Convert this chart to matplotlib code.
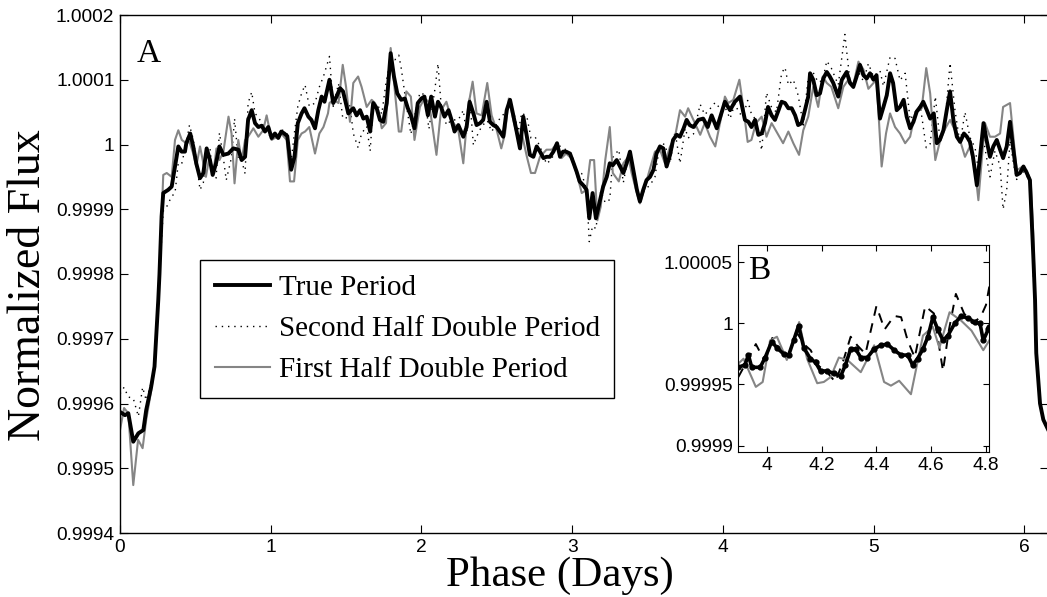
import numpy as np
import matplotlib
matplotlib.use("Agg")
import matplotlib.pyplot as plt

# ---------------- data (flux offsets in ppm: flux = 1 + ppm*1e-6) ----------------
true_phase = [0.000,0.033,0.055,0.088,0.122,0.155,0.174,0.207,0.229,0.254,0.262,0.276,0.287,0.320,0.343,0.365,
0.387,0.409,0.431,0.440,0.466,0.486,0.506,0.531,0.553,0.575,0.597,0.615,0.637,0.660,0.686,0.719,0.752,0.785,
0.807,0.830,0.850,0.874,0.896,0.918,0.940,0.962,0.984,1.006,1.028,1.050,1.070,1.090,1.110,1.136,1.158,1.180,
1.205,1.224,1.250,1.270,1.294,1.316,1.338,1.357,1.390,1.415,1.437,1.460,1.480,1.515,1.548,1.570,1.593,1.615,
1.637,1.660,1.680,1.703,1.725,1.747,1.770,1.796,1.818,1.840,1.866,1.890,1.910,1.930,1.954,1.976,2.000,2.020,
2.043,2.065,2.090,2.110,2.130,2.153,2.180,2.200,2.220,2.245,2.278,2.300,2.320,2.345,2.366,2.390,2.410,2.433,
2.455,2.477,2.500,2.520,2.543,2.566,2.588,2.610,2.632,2.654,2.676,2.700,2.720,2.743,2.765,2.787,2.810,2.830,
2.853,2.876,2.900,2.920,2.940,2.960,2.986,3.010,3.030,3.050,3.074,3.096,3.114,3.136,3.158,3.185,3.206,3.230,
3.250,3.270,3.296,3.318,3.340,3.362,3.384,3.406,3.430,3.450,3.472,3.494,3.517,3.540,3.560,3.583,3.605,3.627,
3.650,3.670,3.694,3.716,3.740,3.760,3.780,3.805,3.838,3.870,3.900,3.926,3.960,3.990,4.014,4.048,4.080,4.114,
4.147,4.170,4.190,4.214,4.236,4.258,4.280,4.300,4.324,4.346,4.370,4.390,4.413,4.435,4.457,4.480,4.500,4.523,
4.545,4.567,4.579,4.600,4.623,4.645,4.667,4.690,4.710,4.733,4.766,4.790,4.822,4.844,4.866,4.888,4.910,4.933,
4.955,4.977,5.000,5.020,5.043,5.066,5.088,5.110,5.130,5.154,5.176,5.200,5.220,5.243,5.265,5.287,5.310,5.330,
5.354,5.376,5.400,5.420,5.440,5.464,5.486,5.508,5.530,5.553,5.575,5.600,5.620,5.640,5.660,5.686,5.707,5.730,
5.750,5.773,5.795,5.818,5.840,5.860,5.884,5.906,5.928,5.950,5.972,5.995,6.017,6.038,6.050,6.060,6.072,6.080,
6.105,6.127,6.160]
true_ppm = [-413,-418,-415,-459,-446,-441,-410,-374,-343,-240,-200,-111,-75,-70,-65,-34,
-3,-11,-11,2,17,-3,-29,-52,-44,-6,-24,-47,-29,-3,-16,-14,-6,-8,
-24,-19,38,53,33,27,29,20,27,10,17,10,20,17,13,-39,-19,33,
48,56,43,38,25,53,74,66,100,64,74,87,82,48,56,45,53,40,
43,20,64,56,38,35,64,141,105,79,69,71,56,45,25,64,71,74,
45,74,43,66,58,43,53,38,20,30,12,27,66,48,30,33,38,66,
35,30,27,20,12,53,69,45,20,-6,43,12,-16,-19,-3,-11,-21,-19,
-19,-11,2,-19,-11,-11,-14,-29,-42,-57,-63,-70,-114,-75,-114,-86,-65,-50,
-29,-32,-24,-34,-44,-29,-11,-39,-70,-88,-70,-55,-50,-39,-14,-3,-6,-34,
-16,7,15,12,25,38,30,27,38,40,27,45,25,48,66,53,66,74,
38,35,27,38,15,17,33,58,45,38,53,66,64,56,56,45,30,33,
53,74,110,100,76,79,102,112,105,95,74,100,112,95,89,105,123,107,
102,110,100,107,40,58,76,110,95,53,58,69,43,25,35,51,58,66,
53,40,48,2,7,22,53,82,38,12,4,17,12,4,-19,-63,-19,33,
7,-19,-3,7,-8,-21,-3,35,-8,-47,-44,-34,-44,-55,-117,-170,-240,-322,
-400,-425,-441]

first_phase = [0.000,0.027,0.055,0.088,0.120,0.150,0.174,0.207,0.229,0.254,0.270,0.287,0.310,0.343,0.365,0.387,
0.410,0.440,0.461,0.486,0.506,0.531,0.553,0.570,0.593,0.620,0.640,0.660,0.686,0.720,0.740,0.760,0.785,0.807,
0.830,0.850,0.885,0.918,0.950,0.973,1.006,1.040,1.070,1.106,1.128,1.155,1.180,1.205,1.228,1.256,1.294,1.323,
1.350,1.380,1.390,1.415,1.450,1.478,1.500,1.526,1.548,1.580,1.603,1.637,1.670,1.692,1.714,1.737,1.765,1.796,
1.825,1.850,1.866,1.900,1.930,1.954,1.990,2.020,2.050,2.100,2.130,2.166,2.200,2.245,2.278,2.310,2.340,2.366,
2.400,2.437,2.466,2.500,2.530,2.555,2.580,2.610,2.643,2.666,2.700,2.727,2.754,2.787,2.830,2.866,2.900,2.930,
2.960,2.995,3.030,3.064,3.096,3.120,3.146,3.168,3.190,3.220,3.250,3.270,3.310,3.340,3.373,3.395,3.430,3.450,
3.484,3.517,3.550,3.583,3.616,3.650,3.683,3.716,3.750,3.770,3.805,3.850,3.880,3.915,3.950,3.990,4.014,4.036,
4.070,4.110,4.136,4.165,4.190,4.220,4.258,4.290,4.324,4.356,4.400,4.435,4.468,4.506,4.534,4.567,4.600,4.633,
4.663,4.690,4.720,4.766,4.800,4.833,4.866,4.900,4.933,4.966,5.000,5.020,5.054,5.083,5.110,5.143,5.176,5.210,
5.243,5.276,5.320,5.350,5.376,5.410,5.440,5.470,5.508,5.540,5.574,5.607,5.640,5.674,5.696,5.720,5.740,5.773,
5.806,5.840,5.860,5.906,5.928,5.950,5.983,6.017,6.043,6.060,6.072,6.080,6.105,6.127,6.160]
first_ppm = [-441,-407,-415,-526,-456,-469,-425,-380,-343,-240,-150,-47,-44,-50,7,22,
7,2,4,-14,-34,-3,-29,-50,-19,-44,-6,-24,-11,43,17,-60,7,-24,
7,12,25,12,22,45,7,12,17,7,-57,-57,7,17,20,27,-14,17,
27,48,64,69,64,123,89,35,95,105,89,58,69,64,53,25,33,149,
79,20,20,82,74,7,58,71,66,-16,53,66,38,22,-29,58,97,48,
45,95,45,22,-6,17,71,38,7,17,-19,-44,-44,-19,-8,-8,2,-21,
-14,-21,-44,-75,-70,-24,-24,-117,-96,-24,27,-44,-57,-29,-19,-44,-75,-91,
-65,-37,-11,-8,-29,-3,12,53,43,56,38,15,33,12,-3,43,74,64,
69,100,58,4,7,33,43,12,33,20,2,20,2,-16,22,43,89,58,
105,95,89,56,89,100,92,128,116,86,95,100,-34,17,48,27,17,2,
12,48,56,118,79,-24,4,22,38,22,7,-19,-3,-39,-86,-19,33,12,
12,17,58,64,12,-40,-35,-40,-57,-137,-240,-322,-400,-425,-441]

second_phase = [0.000,0.027,0.055,0.088,0.122,0.150,0.174,0.207,0.229,0.245,0.265,0.287,0.310,0.343,0.365,0.387,
0.410,0.440,0.461,0.486,0.506,0.531,0.553,0.570,0.597,0.615,0.637,0.660,0.686,0.705,0.740,0.760,0.785,0.807,
0.830,0.850,0.874,0.896,0.918,0.950,0.984,1.006,1.040,1.070,1.106,1.136,1.158,1.180,1.205,1.228,1.256,1.294,
1.323,1.350,1.390,1.415,1.450,1.478,1.500,1.526,1.548,1.580,1.603,1.637,1.660,1.680,1.714,1.737,1.765,1.796,
1.825,1.850,1.866,1.900,1.930,1.954,1.990,2.020,2.050,2.090,2.110,2.130,2.166,2.200,2.245,2.278,2.300,2.320,
2.345,2.366,2.400,2.437,2.466,2.500,2.530,2.555,2.580,2.610,2.643,2.666,2.700,2.727,2.754,2.787,2.830,2.866,
2.900,2.930,2.960,2.995,3.030,3.064,3.096,3.114,3.136,3.158,3.190,3.220,3.250,3.270,3.310,3.340,3.373,3.406,
3.430,3.450,3.484,3.517,3.550,3.583,3.616,3.650,3.683,3.716,3.750,3.770,3.805,3.850,3.880,3.915,3.950,3.990,
4.014,4.048,4.080,4.110,4.136,4.165,4.190,4.220,4.258,4.290,4.324,4.356,4.390,4.413,4.435,4.468,4.500,4.534,
4.567,4.600,4.633,4.663,4.690,4.720,4.766,4.810,4.844,4.866,4.900,4.933,4.966,5.000,5.043,5.066,5.110,5.143,
5.176,5.210,5.243,5.276,5.310,5.350,5.376,5.410,5.440,5.470,5.508,5.540,5.574,5.607,5.640,5.674,5.696,5.720,
5.750,5.773,5.806,5.840,5.860,5.884,5.906,5.928,5.950,5.983,6.017,6.038,6.050,6.060,6.072,6.080,6.105,6.127,
6.160]
second_ppm = [-385,-375,-390,-392,-420,-375,-395,-368,-343,-260,-190,-103,-96,-80,-75,-28,
-29,2,30,8,-24,-70,-59,-20,-5,-50,-52,18,-21,-55,-20,40,-23,-24,
-45,64,81,48,42,30,15,13,10,23,19,-25,19,59,79,92,59,64,
89,105,136,59,94,41,40,61,17,-5,17,28,-10,59,59,47,95,133,
131,138,118,62,16,43,80,77,24,86,125,63,30,38,38,53,15,74,
-1,12,28,37,20,32,44,48,67,52,20,49,43,10,12,-3,-30,-22,
2,-5,-8,-14,-40,-45,-70,-150,-126,-130,-72,-90,-85,-20,-8,-59,-17,-40,
-65,-85,-69,-63,-50,2,0,-29,20,-29,25,10,16,62,46,55,65,53,
58,40,63,48,45,68,47,38,-9,80,57,50,110,119,92,100,76,30,
105,111,96,99,129,118,92,170,97,86,112,98,125,105,114,90,135,133,
99,110,38,50,60,-5,1,74,10,22,126,54,1,50,11,-5,-40,20,
-20,-50,-10,-33,-100,-70,6,-28,-54,-40,-48,-60,-100,-200,-240,-322,-400,-430,
-441]

# inset B (zoom of phase 3.9 - 4.8)
inset_true_phase = [3.896,3.920,3.933,3.945,3.976,3.994,4.018,4.037,4.061,4.080,4.098,4.116,4.135,4.159,4.178,
4.196,4.220,4.245,4.270,4.287,4.306,4.324,4.343,4.367,4.392,4.416,4.440,4.465,4.490,4.514,4.532,4.550,4.570,
4.588,4.606,4.624,4.643,4.661,4.686,4.710,4.735,4.759,4.778,4.790,4.808,4.812]
inset_true_ppm = [-36,-34,-26,-36,-36,-28,-15,-20,-25,-26,-14,-2,-20,-29,-32,
-39,-39,-41,-43,-34,-21,-21,-28,-28,-21,-18,-17,-22,-26,-26,-34,-29,-21,
-11,5,-5,-14,-10,0,6,4,1,0,-14,-5,-3]
inset_first_phase = [3.896,3.915,3.960,3.985,4.012,4.037,4.073,4.098,4.118,4.147,4.184,4.208,4.233,4.263,4.294,
4.343,4.392,4.428,4.453,4.483,4.526,4.570,4.606,4.630,4.667,4.710,4.747,4.790,4.812]
inset_first_ppm = [-33,-29,-52,-48,-14,-11,-30,-14,1,-29,-49,-48,-44,-28,-30,
-40,-18,-48,-51,-47,-58,-10,-3,-20,9,2,-6,-22,-14]
inset_second_phase = [3.896,3.930,3.960,3.990,4.020,4.050,4.080,4.110,4.140,4.160,4.190,4.220,4.250,4.280,4.306,
4.330,4.360,4.400,4.430,4.465,4.490,4.514,4.540,4.578,4.610,4.643,4.665,4.690,4.720,4.750,4.780,4.800,4.812]
inset_second_ppm = [-44,-30,-17,-30,-12,-22,-25,-8,-18,-22,-35,-40,-48,-30,-11,
-18,-25,14,-5,6,5,-14,-28,14,8,-39,-5,24,8,0,5,15,30]

labels = ["True Period", "Second Half Double Period", "First Half Double Period"]
main_yticks = [0.9994, 0.9995, 0.9996, 0.9997, 0.9998, 0.9999, 1.0, 1.0001, 1.0002]
main_yticklabels = ["0.9994", "0.9995", "0.9996", "0.9997", "0.9998", "0.9999", "1", "1.0001", "1.0002"]
main_xticks = [0, 1, 2, 3, 4, 5, 6]
inset_yticks = [0.9999, 0.99995, 1.0, 1.00005]
inset_yticklabels = ["0.9999", "0.99995", "1", "1.00005"]
inset_xticks = [4.0, 4.2, 4.4, 4.6, 4.8]
inset_xticklabels = ["4", "4.2", "4.4", "4.6", "4.8"]


def flux(ppm):
    return 1.0 + np.asarray(ppm, dtype=float) * 1e-6


W, H = 1047, 597
fig = plt.figure(figsize=(W / 100, H / 100), dpi=100)
tickfont = "Liberation Sans"
serif = "Liberation Serif"
GREY = "#858585"

ax = fig.add_axes([120 / W, 1 - 533 / H, 928 / W, 518 / H])
l1, = ax.plot(true_phase, flux(true_ppm), color="black", lw=2.8, zorder=3)
l2, = ax.plot(second_phase, flux(second_ppm), color="black", lw=1.0, ls=(0, (1, 3.5)), zorder=2)
l3, = ax.plot(first_phase, flux(first_ppm), color=GREY, lw=1.5, zorder=2)
ax.set_xlim(0, 928 / 150.7)
ax.set_ylim(0.9994, 1.0002)
ax.set_xticks(main_xticks)
ax.set_xticklabels([str(t) for t in main_xticks])
ax.set_yticks(main_yticks)
ax.set_yticklabels(main_yticklabels)
ax.tick_params(direction="in", length=6, width=0.8, top=True, right=True, labelsize=13.8, pad=4)
for lab in ax.get_xticklabels() + ax.get_yticklabels():
    lab.set_fontfamily(tickfont)
for s in ax.spines.values():
    s.set_linewidth(1.0)
fig.text(560 / W, 1 - 586 / H, "Phase (Days)", fontfamily=serif, fontsize=31,
         ha="center", va="baseline")
fig.text(8 / W, 1 - 285 / H, "Normalized Flux", fontfamily=serif, fontsize=33,
         ha="left", va="center", rotation=90)
ax.text(0.018, 0.955, "A", transform=ax.transAxes, fontfamily=serif, fontsize=24, va="top", ha="left")

leg = ax.legend([l1, l2, l3], labels, loc="upper left",
                bbox_to_anchor=(200 / W, 1 - 260 / H), bbox_transform=fig.transFigure,
                prop={"family": serif, "size": 21}, frameon=True, fancybox=False,
                edgecolor="black", framealpha=1, handlelength=1.9, handletextpad=0.3,
                labelspacing=0.5, borderpad=0.5, borderaxespad=0)
leg.get_frame().set_linewidth(1.0)

# inset
axi = fig.add_axes([738.3 / W, 1 - 451.7 / H, 251 / W, 206.7 / H])
axi.plot(inset_true_phase, flux(inset_true_ppm), color="black", lw=2.6, marker="o", ms=3.5, zorder=3)
axi.plot(inset_second_phase, flux(inset_second_ppm), color="black", lw=1.4, ls=(0, (5, 4)), zorder=2)
axi.plot(inset_first_phase, flux(inset_first_ppm), color=GREY, lw=1.5, zorder=2)
axi.set_xlim(3.896, 4.812)
axi.set_ylim(0.999895, 1.000064)
axi.set_xticks(inset_xticks)
axi.set_xticklabels(inset_xticklabels)
axi.set_yticks(inset_yticks)
axi.set_yticklabels(inset_yticklabels)
axi.tick_params(direction="in", length=4, width=0.8, top=True, right=True, labelsize=13.8, pad=4)
for lab in axi.get_xticklabels() + axi.get_yticklabels():
    lab.set_fontfamily(tickfont)
axi.text(0.04, 0.95, "B", transform=axi.transAxes, fontfamily=serif, fontsize=24, va="top", ha="left")

fig.savefig("out.png", dpi=100)
